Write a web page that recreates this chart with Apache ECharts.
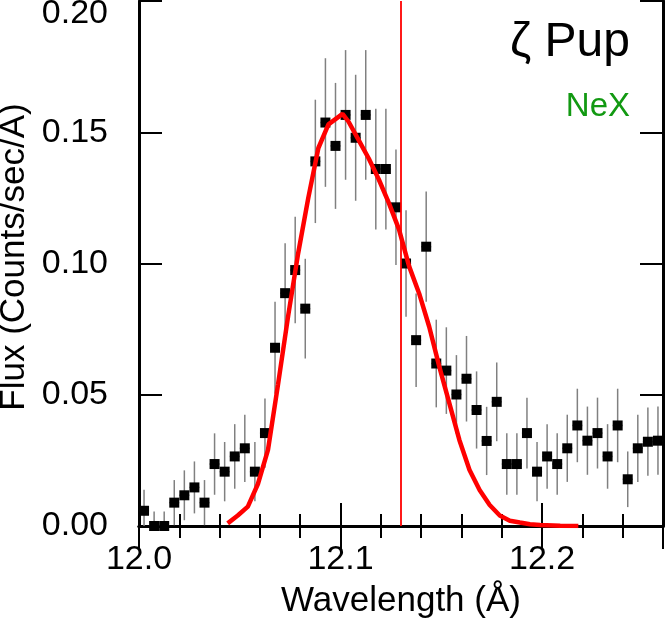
<!DOCTYPE html>
<html>
<head>
<meta charset="utf-8">
<script src="https://cdn.jsdelivr.net/npm/echarts@6/dist/echarts.min.js"></script>
<style>
html,body{margin:0;padding:0;background:#fff;}
#chart{width:666px;height:620px;}
</style>
</head>
<body>
<div id="chart"></div>
<script>
// ---- data ----
const wavelengths = [12.0025,12.0075,12.0125,12.0175,12.0225,12.0275,12.0325,12.0375,12.0425,12.0475,
  12.0525,12.0575,12.0625,12.0675,12.0725,12.0775,12.0825,12.0875,12.0925,12.0975,
  12.1025,12.1075,12.1125,12.1175,12.1225,12.1275,12.1325,12.1375,12.1425,12.1475,
  12.1525,12.1575,12.1625,12.1675,12.1725,12.1775,12.1825,12.1875,12.1925,12.1975,
  12.2025,12.2075,12.2125,12.2175,12.2225,12.2275,12.2325,12.2375,12.2425,12.2475,
  12.2525,12.2575];
const flux = [0.0058,0.0000,0.0000,0.0089,0.0117,0.0147,0.0089,0.0236,0.0207,0.0265,
  0.0296,0.0207,0.0354,0.0679,0.0887,0.0975,0.0828,0.1389,0.1537,0.1448,
  0.1566,0.1479,0.1566,0.1360,0.1360,0.1214,0.1000,0.0708,0.1064,0.0619,
  0.0592,0.0501,0.0561,0.0442,0.0324,0.0473,0.0236,0.0236,0.0354,0.0207,
  0.0265,0.0236,0.0296,0.0383,0.0325,0.0354,0.0265,0.0383,0.0178,0.0296,
  0.0321,0.0325];
const fluxErr = [0.0080,0.0055,0.0055,0.0086,0.0095,0.0099,0.0086,0.0117,0.0113,0.0123,
  0.0128,0.0113,0.0132,0.0175,0.0190,0.0203,0.0190,0.0235,0.0245,0.0240,
  0.0247,0.0240,0.0247,0.0230,0.0230,0.0220,0.0203,0.0178,0.0210,0.0167,
  0.0165,0.0150,0.0163,0.0147,0.0130,0.0150,0.0117,0.0117,0.0135,0.0113,
  0.0123,0.0117,0.0128,0.0140,0.0130,0.0135,0.0123,0.0140,0.0106,0.0128,
  0.0130,0.0130];
const binHalfWidth = 0.0025;
const modelWave = [12.044,12.049,12.054,12.059,12.064,12.069,12.074,12.079,12.084,12.089,
  12.094,12.101,12.104,12.109,12.114,12.119,12.124,12.129,12.134,12.139,
  12.144,12.149,12.154,12.159,12.164,12.169,12.174,12.179,12.184,12.189,
  12.194,12.199,12.209,12.218];
const modelFlux = [0.001,0.004,0.0074,0.016,0.029,0.054,0.080,0.104,0.125,0.144,
  0.153,0.157,0.154,0.147,0.140,0.132,0.123,0.113,0.099,0.0886,
  0.0759,0.0607,0.0467,0.0327,0.0213,0.0137,0.008,0.004,0.002,0.0013,
  0.0007,0.0004,0.0001,0.0];
const lineCenter = 12.131;
const xTickLabels = ['12.0','12.1','12.2'];
const yTickLabels = ['0.00','0.05','0.10','0.15','0.20'];
const starName = 'ζ Pup';
const ionName = 'NeX';

// ---- chart ----
const FONT = '"Liberation Sans", Arial, sans-serif';
const chart = echarts.init(document.getElementById('chart'), null, {renderer:'canvas'});
const pts = wavelengths.map((w,i)=>[w, flux[i], fluxErr[i]]);
const model = modelWave.map((w,i)=>[w, modelFlux[i]]);

const axisLine = {show:true, lineStyle:{color:'#000', width:3}};
function xAx(pos, showLabels){
  return {
    type:'value', position:pos, min:12.0, max:12.26, interval:0.1,
    axisLine: axisLine,
    axisTick:{show:true, inside:true, length:23, lineStyle:{color:'#000', width:2}},
    minorTick:{show:true, splitNumber:5, length:12, lineStyle:{color:'#000', width:2}},
    splitLine:{show:false}, minorSplitLine:{show:false},
    axisLabel:{show:showLabels, showMaxLabel:false, margin:17, color:'#000', fontSize:34, fontFamily:FONT,
      formatter:(v)=>{ const i = Math.round((v-12.0)/0.1); return xTickLabels[i] !== undefined ? xTickLabels[i] : ''; }}
  };
}
function yAx(pos, showLabels){
  return {
    type:'value', position:pos, min:0, max:0.2, interval:0.05,
    axisLine: axisLine,
    axisTick:{show:true, inside:true, length:23, lineStyle:{color:'#000', width:2}},
    splitLine:{show:false},
    axisLabel:{show:showLabels, margin:31, color:'#000', fontSize:34, fontFamily:FONT,
      verticalAlignMaxLabel:'top', lineHeight:26,
      formatter:(v)=>{ const i = Math.round(v/0.05); return yTickLabels[i] !== undefined ? yTickLabels[i] : ''; }}
  };
}

const option = {
  animation:false,
  backgroundColor:'#fff',
  grid:{left:139, right:3, top:1, bottom:94, containLabel:false, outerBoundsMode:'none'},
  xAxis:[xAx('bottom', true), xAx('top', false)],
  yAxis:[yAx('left', true), yAx('right', false)],
  series:[
    {
      type:'custom', xAxisIndex:0, yAxisIndex:0, clip:true, z:2,
      data: pts,
      renderItem:(params, api)=>{
        const x = api.value(0), y = api.value(1), e = api.value(2);
        const a = api.coord([x, y-e]), b = api.coord([x, y+e]);
        const l = api.coord([x-binHalfWidth, y]), r = api.coord([x+binHalfWidth, y]);
        return {type:'group', children:[
          {type:'line', shape:{x1:a[0], y1:a[1], x2:b[0], y2:b[1]}, style:{stroke:'#808080', lineWidth:1.5}},
          {type:'line', shape:{x1:l[0], y1:l[1], x2:r[0], y2:r[1]}, style:{stroke:'#808080', lineWidth:1.5}}
        ]};
      }
    },
    {
      type:'scatter', xAxisIndex:0, yAxisIndex:0, z:3,
      data: pts.map(p=>[p[0], p[1]]),
      symbol:'rect', symbolSize:10,
      itemStyle:{color:'#000', opacity:1}
    },
    {
      type:'line', xAxisIndex:0, yAxisIndex:0, z:4,
      data: model, smooth:false, showSymbol:false, symbol:'none',
      lineStyle:{color:'#ff0000', width:4.5},
      markLine:{
        silent:true, symbol:['none','none'], label:{show:false},
        lineStyle:{color:'#ff0000', width:1.8, type:'solid'},
        data:[{xAxis: lineCenter}]
      }
    }
  ],
  graphic:[
    {type:'text', x:630, y:67, style:{text:starName, font:'48px '+FONT, fill:'#000', textAlign:'right', textVerticalAlign:'bottom'}, z:10},
    {type:'text', x:630, y:123, style:{text:ionName, font:'33px '+FONT, fill:'#129912', textAlign:'right', textVerticalAlign:'bottom'}, z:10},
    {type:'text', x:401, y:601, style:{text:'Wavelength (Å)', font:'35px '+FONT, fill:'#000', textAlign:'center', textVerticalAlign:'middle'}, z:10},
    {type:'text', x:14, y:257, rotation:Math.PI/2, style:{text:'Flux (Counts/sec/A)', font:'35px '+FONT, fill:'#000', textAlign:'center', textVerticalAlign:'middle'}, z:10}
  ]
};
chart.setOption(option);
</script>
</body>
</html>
